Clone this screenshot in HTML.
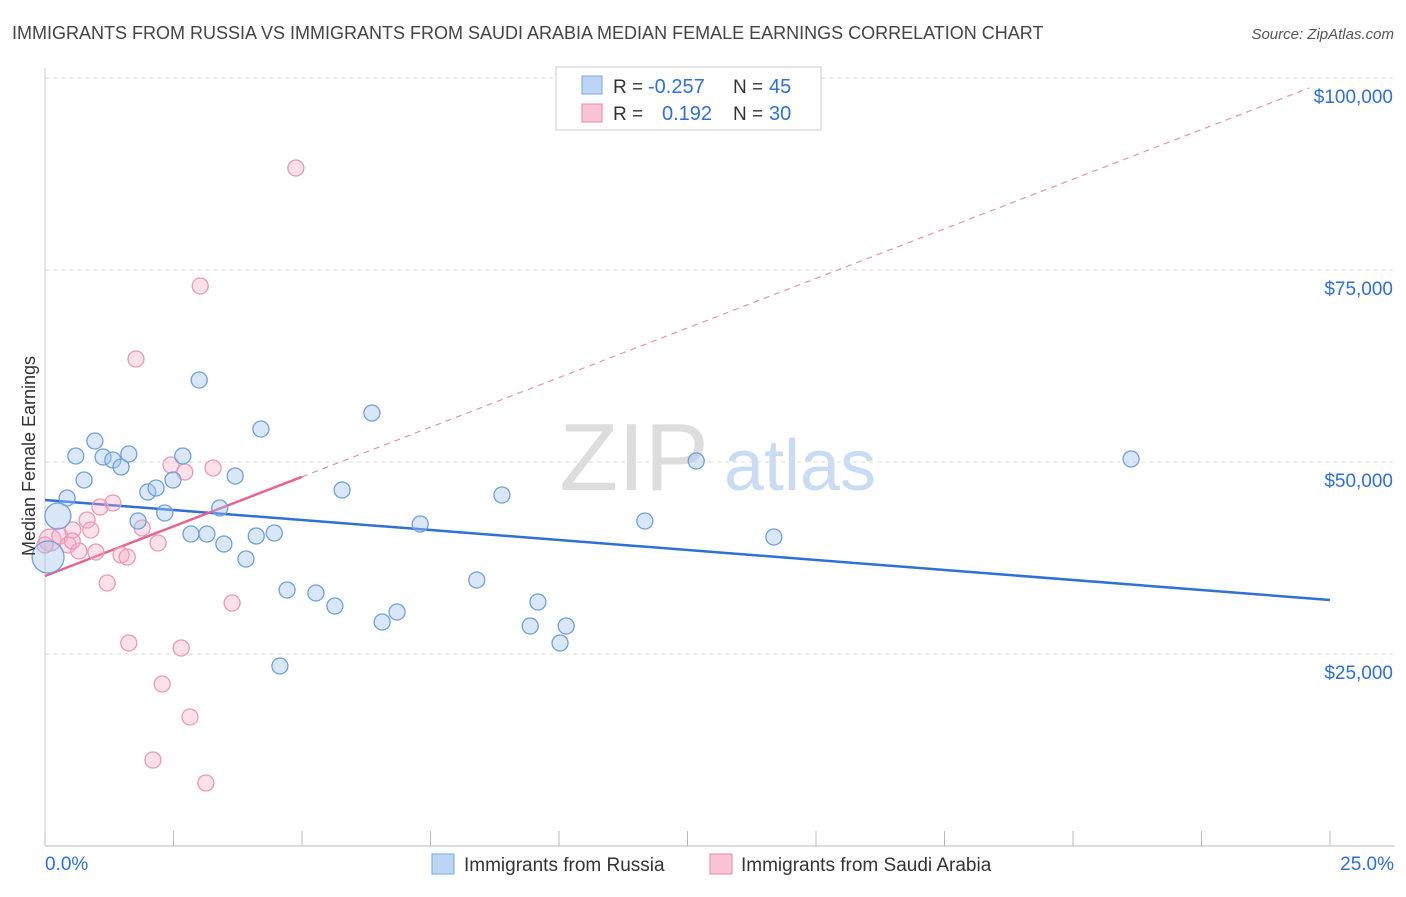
<!DOCTYPE html>
<html><head><meta charset="utf-8"><style>
body{margin:0;background:#fff;font-family:"Liberation Sans",sans-serif;}
svg text{font-family:"Liberation Sans",sans-serif;}
</style></head><body>
<svg id="chart" width="1406" height="892" viewBox="0 0 1406 892" xmlns="http://www.w3.org/2000/svg">
<text x="12" y="39" font-size="18" fill="#444">IMMIGRANTS FROM RUSSIA VS IMMIGRANTS FROM SAUDI ARABIA MEDIAN FEMALE EARNINGS CORRELATION CHART</text>
<text x="1394" y="39" font-size="15" fill="#555" text-anchor="end" font-style="italic">Source: ZipAtlas.com</text>
<g>
<text x="634" y="490" font-size="96" fill="#ddd" text-anchor="middle" font-family="Liberation Serif">ZIP</text>
<text x="800" y="490" font-size="72" fill="#c9dcf3" text-anchor="middle">atlas</text>
</g>
<g id="grid"></g>
<g id="axes"></g>
<g id="lines"></g>
<g id="points"></g>
<text transform="translate(35,456) rotate(-90)" font-size="18" fill="#333" text-anchor="middle">Median Female Earnings</text>
<g>
<rect x="556" y="67" width="265" height="63" fill="#fff" stroke="#ccc"/>
<rect x="582" y="76" width="20" height="18" fill="#bcd5f5" stroke="#7aa7e0"/>
<text x="613" y="93" font-size="19" fill="#333">R = </text><text x="648" y="93" font-size="20" fill="#2f6fd6">-0.257</text>
<text x="733" y="93" font-size="19" fill="#333">N = </text><text x="769" y="93" font-size="20" fill="#2f6fd6">45</text>
<rect x="582" y="104" width="20" height="18" fill="#f9c5d5" stroke="#e68aa8"/>
<text x="613" y="120" font-size="19" fill="#333">R = </text><text x="662" y="120" font-size="20" fill="#2f6fd6">0.192</text>
<text x="733" y="120" font-size="19" fill="#333">N = </text><text x="769" y="120" font-size="20" fill="#2f6fd6">30</text>
</g>
<g>
<rect x="432" y="854" width="22" height="20" fill="#bcd5f5" stroke="#7aa7e0"/>
<text x="464" y="871" font-size="19" fill="#333">Immigrants from Russia</text>
<rect x="710" y="854" width="22" height="20" fill="#f9c5d5" stroke="#e68aa8"/>
<text x="741" y="871" font-size="19" fill="#333">Immigrants from Saudi Arabia</text>
</g>
</svg>
<script>
const NS="http://www.w3.org/2000/svg";
const yTicks=[25000,50000,75000,100000];
const yTickLabels=["$25,000","$50,000","$75,000","$100,000"];
const xTickLabels=["0.0%","25.0%"];
const russiaX=[0.43,0.25,0.06,0.60,0.76,0.97,1.13,1.32,1.48,1.63,1.81,2.00,2.16,2.33,2.49,2.68,2.84,3.00,3.15,3.40,3.48,3.70,3.91,4.11,4.20,4.46,4.57,4.71,5.27,5.64,5.78,6.36,6.56,6.85,7.30,8.40,8.89,9.44,9.59,10.02,10.14,11.67,12.67,14.18,21.13];
const russiaY=[45313,42969,37630,50781,47656,52734,50651,50260,49349,51042,42318,46094,46615,43359,47656,50781,40625,60677,40625,44010,39323,48177,37370,40365,54297,40755,23438,33333,32943,31250,46354,56380,29167,30469,41927,34635,45703,28646,31771,26432,28646,42318,50130,40234,50391];
const russiaR=[8,13,16,8,8,8,8,8,8,8,8,8,8,8,8,8,8,8,8,8,8,8,8,8,8,8,8,8,8,8,8,8,8,8,8,8,8,8,8,8,8,8,8,8,8];
const saudiX=[0.10,0.29,0.45,0.54,0.66,0.82,0.89,0.99,1.07,1.21,1.32,1.48,1.60,1.63,1.77,1.89,2.10,2.20,2.28,2.45,2.65,2.72,2.82,3.02,3.13,3.27,3.64,4.88,0.53,0.00];
const saudiY=[39844,40365,39193,41146,38411,42448,41146,38281,44141,34245,44661,37891,37630,26432,63411,41406,11198,39453,21094,49609,25781,48698,16797,72917,8203,49219,31641,88281,39714,39193];
const russiaTrend=[45052,-520.84]; // intercept, slope per %
const saudiTrend=[35156,2583.6];
const sx=v=>45+v/25*1285;
const sy=v=>846-v/25000*192;
function mk(tag,attrs,parent){const e=document.createElementNS(NS,tag);for(const k in attrs)e.setAttribute(k,attrs[k]);parent.appendChild(e);return e;}
const grid=document.getElementById('grid'),axes=document.getElementById('axes'),lines=document.getElementById('lines'),pts=document.getElementById('points');
yTicks.forEach((t,i)=>{
 const g=mk('line',{x1:45,x2:1394,y1:sy(t),y2:sy(t),stroke:'#ddd','stroke-dasharray':'4,4'},grid);
 
 
 const l=mk('text',{x:1393,y:sy(t)+25,'font-size':19,fill:'#2f6fd6','text-anchor':'end'},axes);
 l.textContent=yTickLabels[i];
 
 
});
const ax=mk('line',{x1:45,x2:1394,y1:846,y2:846,stroke:'#bbb'},axes);


const ay=mk('line',{x1:45,x2:45,y1:68,y2:846,stroke:'#ccc'},axes);


for(let i=0;i<=10;i++){
 const t=mk('line',{x1:sx(i*2.5),x2:sx(i*2.5),y1:831,y2:846,stroke:'#bbb'},axes);
 
 
}
const xl0=mk('text',{x:45,y:870,'font-size':19,fill:'#2f6fd6'},axes);xl0.textContent=xTickLabels[0];


const xl1=mk('text',{x:1394,y:870,'font-size':19,fill:'#2f6fd6','text-anchor':'end'},axes);xl1.textContent=xTickLabels[1];


// trend lines
const rl=mk('line',{x1:sx(0),y1:sy(russiaTrend[0]),x2:sx(25),y2:sy(russiaTrend[0]+25*russiaTrend[1]),stroke:'#2f6fd6','stroke-width':2.5},lines);


const pd=mk('line',{x1:sx(5),y1:sy(saudiTrend[0]+5*saudiTrend[1]),x2:sx(24.6),y2:sy(saudiTrend[0]+24.6*saudiTrend[1]),stroke:'#e892ae','stroke-width':1.2,'stroke-dasharray':'6,5'},lines);


const ps=mk('line',{x1:sx(0),y1:sy(saudiTrend[0]),x2:sx(5),y2:sy(saudiTrend[0]+5*saudiTrend[1]),stroke:'#e8638f','stroke-width':2.5},lines);


saudiX.forEach((x,i)=>{
 const c=mk('circle',{cx:sx(x),cy:sy(saudiY[i]),r:i===0?11:8,fill:'rgba(246,170,195,0.35)',stroke:'#e99ab4','stroke-width':1.3},pts);
 
 
});
russiaX.forEach((x,i)=>{
 const c=mk('circle',{cx:sx(x),cy:sy(russiaY[i]),r:russiaR[i],fill:'rgba(160,196,240,0.4)',stroke:'#6f9fdc','stroke-width':1.3},pts);
 
 
});
</script>
</body></html>
